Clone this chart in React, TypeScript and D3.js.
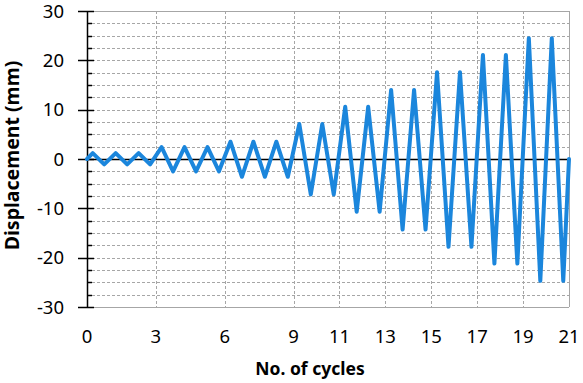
import React from "react";
import * as d3 from "d3";

const cyclePositions: number[] = [
  0,
  0.25, 0.75, 1.25, 1.75, 2.25, 2.75,
  3.25, 3.75, 4.25, 4.75, 5.25, 5.75,
  6.25, 6.75, 7.25, 7.75, 8.25, 8.75,
  9.25, 9.75, 10.25, 10.75,
  11.25, 11.75, 12.25, 12.75,
  13.25, 13.75, 14.25, 14.75,
  15.25, 15.75, 16.25, 16.75,
  17.25, 17.75, 18.25, 18.75,
  19.25, 19.75, 20.25, 20.75,
  21,
];

const displacements: number[] = [
  0,
  1.2, -1.1, 1.2, -1.1, 1.2, -1.1,
  2.4, -2.5, 2.4, -2.5, 2.4, -2.5,
  3.5, -3.6, 3.5, -3.6, 3.5, -3.6,
  7.1, -7.2, 7.1, -7.2,
  10.6, -10.7, 10.6, -10.7,
  14.0, -14.3, 14.0, -14.3,
  17.6, -17.8, 17.6, -17.8,
  21.1, -21.2, 21.1, -21.2,
  24.5, -24.7, 24.5, -24.7,
  0,
];

const xTickValues: number[] = [0, 3, 6, 9, 11, 13, 15, 17, 19, 21];
const xGridValues: number[] = [3, 6, 9, 11, 13, 15, 17, 19];
const yTickValues: number[] = [-30, -20, -10, 0, 10, 20, 30];
const yMinorValues: number[] = [
  -27.5, -25, -22.5, -17.5, -15, -12.5, -7.5, -5, -2.5,
  2.5, 5, 7.5, 12.5, 15, 17.5, 22.5, 25, 27.5,
];

const xTitle = "No. of cycles";
const yTitle = "Displacement (mm)";

const W = 583;
const H = 383;
const left = 87;
const right = 569;
const top = 11;
const bottom = 307;
const font = "'Noto Sans', 'Open Sans', sans-serif";

export default function App() {
  const x = d3.scaleLinear().domain([0, 21]).range([left, right]);
  const y = d3.scaleLinear().domain([-30, 30]).range([bottom, top]);
  const pts: [number, number][] = cyclePositions.map((c, i) => [c, displacements[i]]);
  const line = d3
    .line<[number, number]>()
    .x((d) => x(d[0]))
    .y((d) => y(d[1]));

  const grid = "#a6a6a6";
  return (
    <svg
      width={W}
      height={H}
      style={{ position: "absolute", left: 0, top: 0, background: "#fff" }}
    >
      <rect x={0} y={0} width={W} height={H} fill="#fff" />
      {[...yMinorValues, -20, -10, 10, 20].map((v) => (
        <line
          key={"hg" + v}
          x1={left}
          x2={right}
          y1={Math.round(y(v)) + 0.5}
          y2={Math.round(y(v)) + 0.5}
          stroke={grid}
          strokeWidth={1}
          strokeDasharray="3,2"
        />
      ))}
      {xGridValues.map((v) => (
        <line
          key={"vg" + v}
          x1={Math.round(x(v)) + 0.5}
          x2={Math.round(x(v)) + 0.5}
          y1={top}
          y2={bottom}
          stroke={grid}
          strokeWidth={1}
          strokeDasharray="3,2"
        />
      ))}
      <line x1={left} x2={right} y1={y(30) + 0.5} y2={y(30) + 0.5} stroke={grid} />
      <line x1={left} x2={right} y1={y(-30) + 0.5} y2={y(-30) + 0.5} stroke={grid} />
      <line x1={right + 0.5} x2={right + 0.5} y1={top} y2={bottom} stroke={grid} />
      <line
        x1={left}
        x2={right}
        y1={Math.round(y(0)) + 0.5}
        y2={Math.round(y(0)) + 0.5}
        stroke="#000"
        strokeWidth={1.5}
      />
      <line x1={left + 0.5} x2={left + 0.5} y1={top} y2={bottom} stroke="#000" strokeWidth={1.5} />
      {yTickValues.map((v) => (
        <line
          key={"yt" + v}
          x1={left - 9}
          x2={left + 7}
          y1={Math.round(y(v)) + 0.5}
          y2={Math.round(y(v)) + 0.5}
          stroke="#000"
          strokeWidth={1.5}
        />
      ))}
      {yMinorValues.map((v) => (
        <line
          key={"ym" + v}
          x1={left}
          x2={left + 5}
          y1={Math.round(y(v)) + 0.5}
          y2={Math.round(y(v)) + 0.5}
          stroke="#000"
          strokeWidth={1.5}
        />
      ))}
      {yTickValues.map((v) => (
        <text
          key={"yl" + v}
          x={64}
          y={y(v)}
          dy="0.36em"
          textAnchor="end"
          fontFamily={font}
          fontSize={18.5}
          fill="#000"
        >
          {v}
        </text>
      ))}
      {xTickValues.map((v) => (
        <text
          key={"xl" + v}
          x={x(v)}
          y={343}
          textAnchor="middle"
          fontFamily={font}
          fontSize={18.5}
          fill="#000"
        >
          {v}
        </text>
      ))}
      <path
        d={line(pts) || ""}
        fill="none"
        stroke="#1b86dc"
        strokeWidth={4}
        strokeLinejoin="round"
        strokeLinecap="round"
      />
      <text
        x={310}
        y={375}
        textAnchor="middle"
        fontFamily={font}
        fontWeight="bold"
        fontSize={17.5}
        fill="#000"
      >
        {xTitle}
      </text>
      <text
        transform={`translate(19,${155.5}) rotate(-90)`}
        textAnchor="middle"
        fontFamily={font}
        fontWeight="bold"
        fontSize={19.5}
        fill="#000"
      >
        {yTitle}
      </text>
    </svg>
  );
}
